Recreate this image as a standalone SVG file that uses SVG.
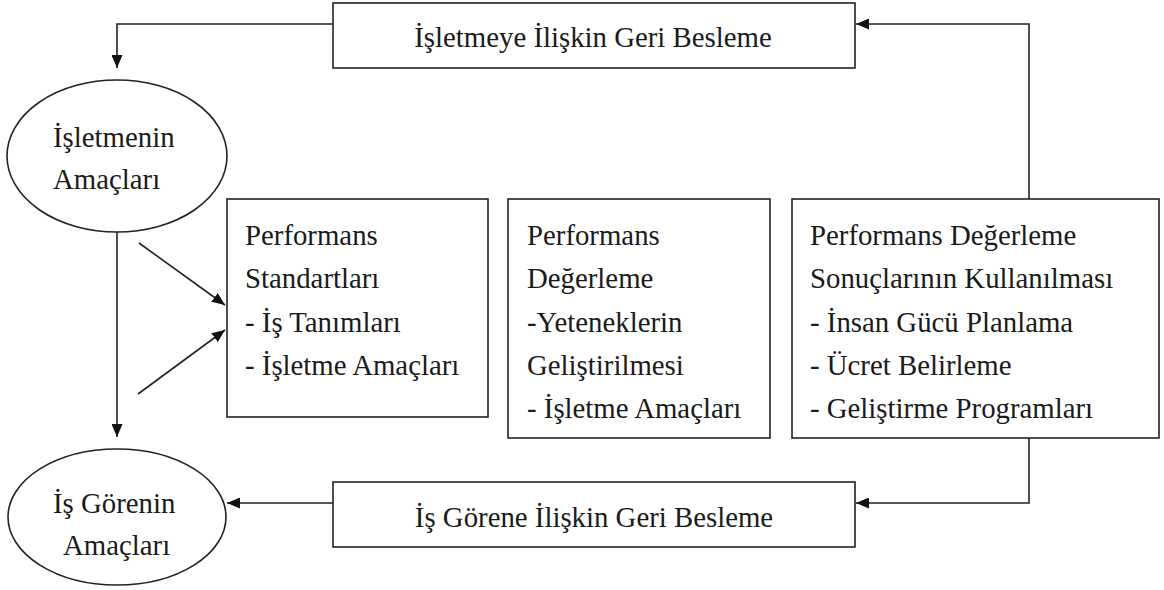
<svg xmlns="http://www.w3.org/2000/svg" width="1164" height="590" viewBox="0 0 1164 590">
  <style>
    .box { fill: #fff; stroke: #222; stroke-width: 1.6; }
    .txt { font-family: 'Liberation Serif', 'DejaVu Serif', 'Times New Roman', serif; font-size: 28.8px; fill: #1a1a1a; }
    .mid { text-anchor: middle; }
    .link { fill: none; stroke: #222; stroke-width: 1.6; }
  </style>
  <defs>
    <marker id="arrow" viewBox="0 0 13 11" refX="13" refY="5.5" markerWidth="13" markerHeight="11" markerUnits="userSpaceOnUse" orient="auto">
      <path d="M0,0 L13,5.5 L0,11 Z" fill="#111"/>
    </marker>
  </defs>
  <rect width="1164" height="590" fill="#fff"/>

  <g id="connectors">
    <!-- organisational feedback back to the organisation's goals -->
    <polyline class="link" points="333,24 117,24 117,68" marker-end="url(#arrow)"/>
    <!-- appraisal results up to organisational feedback -->
    <polyline class="link" points="1029,199 1029,24 856,24" marker-end="url(#arrow)"/>
    <!-- appraisal results down to employee feedback -->
    <polyline class="link" points="1029,438 1029,503 856,503" marker-end="url(#arrow)"/>
    <!-- employee feedback to employee goals -->
    <line class="link" x1="333" y1="503" x2="227" y2="503" marker-end="url(#arrow)"/>
    <!-- organisation goals to employee goals -->
    <line class="link" x1="117" y1="232" x2="117" y2="437" marker-end="url(#arrow)"/>
    <!-- both goal sets feed the performance standards -->
    <line class="link" x1="139" y1="243" x2="225" y2="305" marker-end="url(#arrow)"/>
    <line class="link" x1="138" y1="394" x2="225" y2="330" marker-end="url(#arrow)"/>
  </g>

  <g id="org-feedback">
    <rect class="box" x="333" y="3" width="522" height="65"/>
    <text class="txt mid" x="593" y="47">İşletmeye İlişkin Geri Besleme</text>
  </g>

  <g id="org-goals">
    <ellipse class="box" cx="117" cy="156" rx="110" ry="76"/>
    <text class="txt" x="53" y="147">İşletmenin</text>
    <text class="txt" x="53" y="189">Amaçları</text>
  </g>

  <g id="performance-standards">
    <rect class="box" x="227" y="199" width="261" height="218"/>
    <text class="txt" x="245" y="245">Performans</text>
    <text class="txt" x="245" y="288">Standartları</text>
    <text class="txt" x="245" y="332">- İş Tanımları</text>
    <text class="txt" x="245" y="375">- İşletme Amaçları</text>
  </g>

  <g id="performance-appraisal">
    <rect class="box" x="508" y="199" width="262" height="239"/>
    <text class="txt" x="527" y="245">Performans</text>
    <text class="txt" x="527" y="288">Değerleme</text>
    <text class="txt" x="527" y="332">-Yeteneklerin</text>
    <text class="txt" x="527" y="375">Geliştirilmesi</text>
    <text class="txt" x="527" y="418">- İşletme Amaçları</text>
  </g>

  <g id="appraisal-results">
    <rect class="box" x="792" y="199" width="367" height="239"/>
    <text class="txt" x="810" y="245">Performans Değerleme</text>
    <text class="txt" x="810" y="288">Sonuçlarının Kullanılması</text>
    <text class="txt" x="810" y="332">- İnsan Gücü Planlama</text>
    <text class="txt" x="810" y="375">- Ücret Belirleme</text>
    <text class="txt" x="810" y="418">- Geliştirme Programları</text>
  </g>

  <g id="employee-feedback">
    <rect class="box" x="333" y="482" width="522" height="65"/>
    <text class="txt mid" x="594" y="527">İş Görene İlişkin Geri Besleme</text>
  </g>

  <g id="employee-goals">
    <ellipse class="box" cx="117" cy="517" rx="109" ry="68"/>
    <text class="txt" x="53" y="513">İş Görenin</text>
    <text class="txt" x="63" y="555">Amaçları</text>
  </g>
</svg>
